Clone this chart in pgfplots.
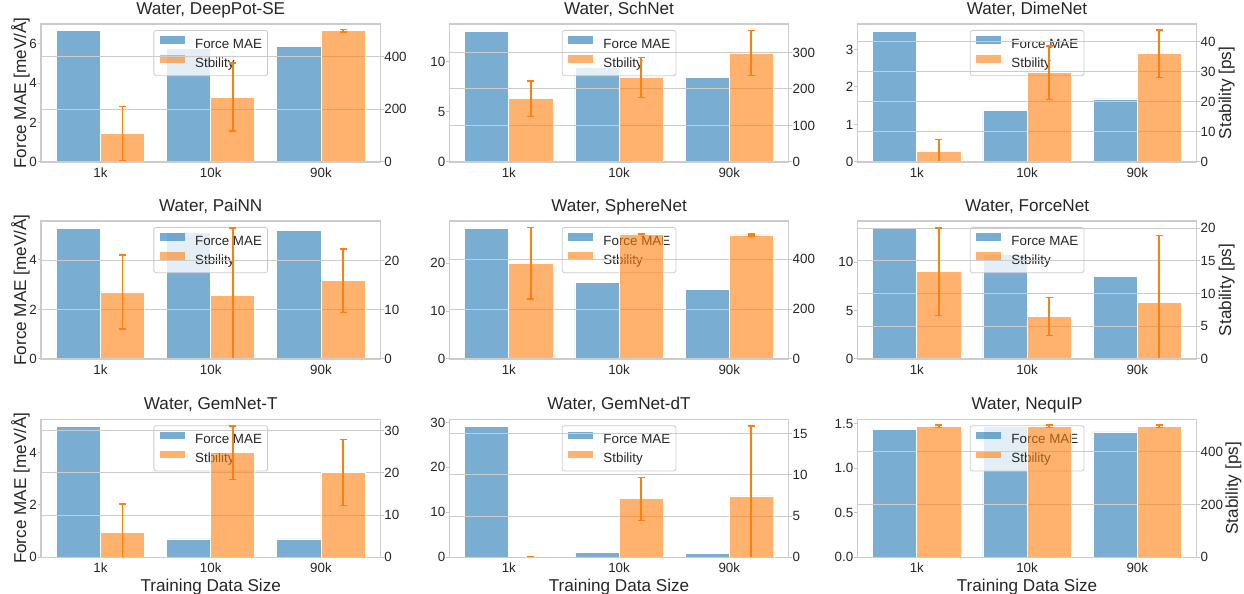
\documentclass[border=0pt]{standalone}
\usepackage{fontspec}
\setmainfont{Liberation Sans}
\usepackage{pgfplots}
\pgfplotsset{compat=1.18}
\definecolor{tabblue}{HTML}{1F77B4}
\definecolor{taborange}{HTML}{FF7F0E}
\definecolor{textc}{HTML}{262626}
\definecolor{spinec}{HTML}{CCCCCC}
\definecolor{gridc}{HTML}{CCCCCC}
\definecolor{tickc}{HTML}{C4C4C4}
\newcommand\tickfont{\fontsize{13.4}{16}\selectfont}
\newcommand\labfont{\fontsize{17.2}{21}\selectfont}
\pgfkeys{/pgf/number format/assume math mode=true}
\pgfplotsset{
  patchleg/.style={legend image code/.code={\fill[##1, draw=none, sharp corners] (0bp,0.55bp) rectangle (25bp,8.05bp);}},
  bluebar/.style={ybar, bar width=0.4, bar shift=0pt, fill=tabblue, fill opacity=0.6, draw=white, line width=0.8bp, patchleg},
  orangebar/.style={ybar, bar width=0.4, bar shift=0pt, fill=taborange, fill opacity=0.6, draw=white, line width=0.8bp, patchleg,
     error bars/y dir=both, error bars/y explicit,
     error bars/error bar style={draw=taborange, draw opacity=1, line width=1.8bp},
     error bars/error mark options={rotate=90, draw=taborange, draw opacity=1, line width=1.3bp, mark size=3.5bp}},
  common/.style={scale only axis, width=339.5bp, height=138bp, xmin=-0.54, xmax=2.54, ymin=0, anchor=south west,
     axis line style={draw=spinec, line width=1.1bp}, tick align=outside, major tick length=3bp,
     y tick style={draw=tickc, line width=1bp}, ticklabel style={text=textc, font=\tickfont}, scaled y ticks=false},
  lax/.style={common, xtick={0,1,2}, xticklabels={1k,10k,90k}, xtick pos=bottom, x tick style={draw=none},
     xticklabel style={anchor=base, yshift=-12.2bp, inner sep=0pt},
     ytick pos=left, yticklabel style={anchor=east, inner sep=0pt, xshift=-0.9bp},
     title style={font=\labfont, text=textc, at={(axis description cs:0.5,1)}, anchor=base, yshift=4bp, inner sep=0pt},
     legend style={at={(axis description cs:0.5,0.9565)}, anchor=north, draw=spinec, line width=0.8bp, fill=white, fill opacity=0.8, text opacity=1, rounded corners=2.5bp, font=\tickfont, text=textc, inner xsep=5.7bp, inner ysep=6bp, row sep=4.7bp, nodes={inner sep=0pt, text height=10bp, text depth=2.5bp}, /tikz/every odd column/.append style={column sep=10.6bp}},
     legend cell align=left,
     every axis y label/.style={at={(axis description cs:-0.0436,0.5)}, rotate=90, anchor=base, font=\labfont, text=textc},
     every axis x label/.style={at={(axis description cs:0.5,0)}, anchor=base, yshift=-34bp, font=\labfont, text=textc}},
  rax/.style={common, xtick=\empty, ytick pos=right, yticklabel pos=right, yticklabel style={anchor=west, inner sep=0pt, xshift=0.7bp},
     ymajorgrids, major grid style={draw=gridc, line width=1bp},
     every axis y label/.style={at={(axis description cs:1.101,0.5)}, rotate=90, anchor=base, font=\labfont, text=textc}},
}
\begin{document}
\begin{tikzpicture}
\path[use as bounding box] (0,0) rectangle (1244bp,594bp);
% ---------- Row 1 ----------
% DeepPot-SE
\begin{axis}[lax, at={(41bp,432bp)}, ymax=7.0, ytick={0,2,4,6}, title={Water, DeepPot-SE}, ylabel={Force MAE [meV/Å]}]
\addplot[bluebar] coordinates {(-0.2,6.65) (0.8,5.77) (1.8,5.87)};
\addlegendentry{Force MAE}
\addlegendimage{patchleg, fill=taborange, fill opacity=0.6}
\addlegendentry{Stbility}
\end{axis}
\begin{axis}[rax, name=r1, at={(41bp,432bp)}, ymax=523, ytick={0,200,400}]
\addplot[orangebar] coordinates {(0.2,107) +- (0,103) (1.2,246) +- (0,129) (2.2,497) +- (0,4)};
\end{axis}
% SchNet
\begin{axis}[lax, at={(449.3bp,432bp)}, ymax=13.77, ytick={0,5,10}, title={Water, SchNet}]
\addplot[bluebar] coordinates {(-0.2,13.07) (0.8,9.43) (1.8,8.43)};
\addlegendentry{Force MAE}
\addlegendimage{patchleg, fill=taborange, fill opacity=0.6}
\addlegendentry{Stbility}
\end{axis}
\begin{axis}[rax, name=r2, at={(449.3bp,432bp)}, ymax=378, ytick={0,100,200,300}]
\addplot[orangebar] coordinates {(0.2,173) +- (0,49) (1.2,231) +- (0,55) (2.2,298) +- (0,62)};
\end{axis}
% DimeNet
\begin{axis}[lax, at={(857.3bp,432bp)}, ymax=3.68, ytick={0,1,2,3}, title={Water, DimeNet}]
\addplot[bluebar] coordinates {(-0.2,3.49) (0.8,1.38) (1.8,1.68)};
\addlegendentry{Force MAE}
\addlegendimage{patchleg, fill=taborange, fill opacity=0.6}
\addlegendentry{Stbility}
\end{axis}
\begin{axis}[rax, name=r3, at={(857.3bp,432bp)}, ymax=45.9, ytick={0,10,20,30,40}, ylabel={Stability [ps]}]
\addplot[orangebar] coordinates {(0.2,3.5) +- (0,4.0) (1.2,29.7) +- (0,8.9) (2.2,36.0) +- (0,7.9)};
\end{axis}
% ---------- Row 2 ----------
% PaiNN
\begin{axis}[lax, at={(41bp,235bp)}, ymax=5.57, ytick={0,2,4}, title={Water, PaiNN}, ylabel={Force MAE [meV/Å]}]
\addplot[bluebar] coordinates {(-0.2,5.26) (0.8,5.11) (1.8,5.18)};
\addlegendentry{Force MAE}
\addlegendimage{patchleg, fill=taborange, fill opacity=0.6}
\addlegendentry{Stbility}
\end{axis}
\begin{axis}[rax, name=r4, at={(41bp,235bp)}, ymax=28.0, ytick={0,10,20}]
\addplot[orangebar] coordinates {(0.2,13.6) +- (0,7.5) (1.2,12.9) +- (0,13.7) (2.2,15.9) +- (0,6.4)};
\end{axis}
% SphereNet
\begin{axis}[lax, at={(449.3bp,235bp)}, ymax=28.8, ytick={0,10,20}, title={Water, SphereNet}]
\addplot[bluebar] coordinates {(-0.2,27.2) (0.8,15.9) (1.8,14.6)};
\addlegendentry{Force MAE}
\addlegendimage{patchleg, fill=taborange, fill opacity=0.6}
\addlegendentry{Stbility}
\end{axis}
\begin{axis}[rax, name=r5, at={(449.3bp,235bp)}, ymax=553, ytick={0,200,400}]
\addplot[orangebar] coordinates {(0.2,383) +- (0,143) (1.2,501) +- (0,3) (2.2,497) +- (0,4)};
\end{axis}
% ForceNet
\begin{axis}[lax, at={(857.3bp,235bp)}, ymax=14.26, ytick={0,5,10}, title={Water, ForceNet}]
\addplot[bluebar] coordinates {(-0.2,13.47) (0.8,10.76) (1.8,8.49)};
\addlegendentry{Force MAE}
\addlegendimage{patchleg, fill=taborange, fill opacity=0.6}
\addlegendentry{Stbility}
\end{axis}
\begin{axis}[rax, name=r6, at={(857.3bp,235bp)}, ymax=21.07, ytick={0,5,10,15,20}, ylabel={Stability [ps]}]
\addplot[orangebar] coordinates {(0.2,13.3) +- (0,6.7) (1.2,6.5) +- (0,2.9) (2.2,8.7) +- (0,10.2)};
\end{axis}
% ---------- Row 3 ----------
% GemNet-T
\begin{axis}[lax, at={(41bp,36.7bp)}, ymax=5.27, ytick={0,2,4}, title={Water, GemNet-T}, ylabel={Force MAE [meV/Å]}, xlabel={Training Data Size}]
\addplot[bluebar] coordinates {(-0.2,5.0) (0.8,0.70) (1.8,0.70)};
\addlegendentry{Force MAE}
\addlegendimage{patchleg, fill=taborange, fill opacity=0.6}
\addlegendentry{Stbility}
\end{axis}
\begin{axis}[rax, name=r7, at={(41bp,36.7bp)}, ymax=32.7, ytick={0,10,20,30}]
\addplot[orangebar] coordinates {(0.2,5.8) +- (0,6.8) (1.2,24.8) +- (0,6.3) (2.2,20.1) +- (0,7.8)};
\end{axis}
% GemNet-dT
\begin{axis}[lax, at={(449.3bp,36.7bp)}, ymax=30.7, ytick={0,10,20,30}, title={Water, GemNet-dT}, xlabel={Training Data Size}]
\addplot[bluebar] coordinates {(-0.2,29.1) (0.8,1.1) (1.8,0.9)};
\addlegendentry{Force MAE}
\addlegendimage{patchleg, fill=taborange, fill opacity=0.6}
\addlegendentry{Stbility}
\end{axis}
\begin{axis}[rax, name=r8, at={(449.3bp,36.7bp)}, ymax=16.76, ytick={0,5,10,15}]
\addplot[orangebar] coordinates {(0.2,0.05) +- (0,0.05) (1.2,7.1) +- (0,2.6) (2.2,7.45) +- (0,8.5)};
\end{axis}
% NequIP
\begin{axis}[lax, at={(857.3bp,36.7bp)}, ymax=1.55, ytick={0,0.5,1,1.5}, yticklabel style={/pgf/number format/.cd, fixed, fixed zerofill, precision=1}, title={Water, NequIP}, xlabel={Training Data Size}]
\addplot[bluebar] coordinates {(-0.2,1.438) (0.8,1.475) (1.8,1.408)};
\addlegendentry{Force MAE}
\addlegendimage{patchleg, fill=taborange, fill opacity=0.6}
\addlegendentry{Stbility}
\end{axis}
\begin{axis}[rax, name=r9, at={(857.3bp,36.7bp)}, ymax=522, ytick={0,200,400}, ylabel={Stability [ps]},
  every axis y label/.style={at={(axis description cs:1.1208,0.5)}, rotate=90, anchor=base, font=\labfont, text=textc}]
\addplot[orangebar] coordinates {(0.2,495) +- (0,5) (1.2,495) +- (0,5) (2.2,495) +- (0,5)};
\end{axis}
\foreach \n in {r1,r2,r3,r4,r5,r6,r7,r8,r9}{
  \draw[spinec, line width=1.1bp] (\n.south west) rectangle (\n.north east);
}
\end{tikzpicture}
\end{document}
